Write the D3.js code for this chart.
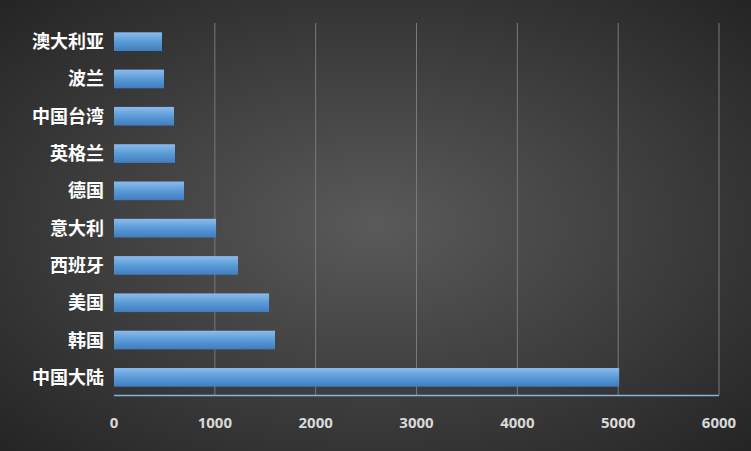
<!DOCTYPE html>
<html><head><meta charset="utf-8">
<script src="https://cdn.jsdelivr.net/npm/d3@7"></script>
<style>body{margin:0;background:#333}</style></head>
<body><svg id="c" width="751" height="451"></svg>
<script>
const categories=["澳大利亚","波兰","中国台湾","英格兰","德国","意大利","西班牙","美国","韩国","中国大陆"];
const values=[476,496,595,605,694,1012,1230,1538,1597,5010];
const ticks=[0,1000,2000,3000,4000,5000,6000];
const svg=d3.select("#c");
const defs=svg.append("defs");
const rg=defs.append("radialGradient").attr("id","bg").attr("cx","50%").attr("cy","50%").attr("r","70%");
rg.append("stop").attr("offset","0%").attr("stop-color","#5a5a5a");
rg.append("stop").attr("offset","100%").attr("stop-color","#252525");
const lg=defs.append("linearGradient").attr("id","bar").attr("x1",0).attr("x2",0).attr("y1",0).attr("y2",1);
lg.append("stop").attr("offset","0%").attr("stop-color","#8bbbef");
lg.append("stop").attr("offset","50%").attr("stop-color","#5b9bd5");
lg.append("stop").attr("offset","100%").attr("stop-color","#3f7dc0");
svg.append("rect").attr("width",751).attr("height",451).attr("fill","url(#bg)");
const x=d3.scaleLinear().domain([0,6000]).range([114,719]);
const y=d3.scaleBand().domain(categories).range([23,396]).paddingInner(0.5).paddingOuter(0.25);
svg.append("g").selectAll("line").data(ticks.slice(1)).join("line")
 .attr("x1",d=>x(d)).attr("x2",d=>x(d)).attr("y1",23).attr("y2",395).attr("stroke","#7a7a7a").attr("stroke-width",1);
svg.append("g").selectAll("rect").data(values).join("rect")
 .attr("x",x(0)).attr("y",(d,i)=>y(categories[i])).attr("width",d=>x(d)-x(0)).attr("height",y.bandwidth())
 .attr("fill","url(#bar)");
svg.append("line").attr("x1",114).attr("x2",719).attr("y1",395.5).attr("y2",395.5).attr("stroke","#8db3dc").attr("stroke-width",1.5);
svg.append("g").selectAll("text").data(ticks).join("text")
 .attr("x",d=>x(d)).attr("y",428).attr("text-anchor","middle").attr("fill","#d9d9d9")
 .attr("font-family","Noto Sans, sans-serif").attr("font-weight","bold").attr("font-size",15).text(d=>d);
svg.append("g").selectAll("text").data(categories).join("text")
 .attr("x",104).attr("y",d=>y(d)+y.bandwidth()/2).attr("dy","0.36em").attr("text-anchor","end").attr("fill","#ffffff")
 .attr("font-family","Noto Sans CJK SC, sans-serif").attr("font-weight","bold").attr("font-size",18).text(d=>d);
</script></body></html>
